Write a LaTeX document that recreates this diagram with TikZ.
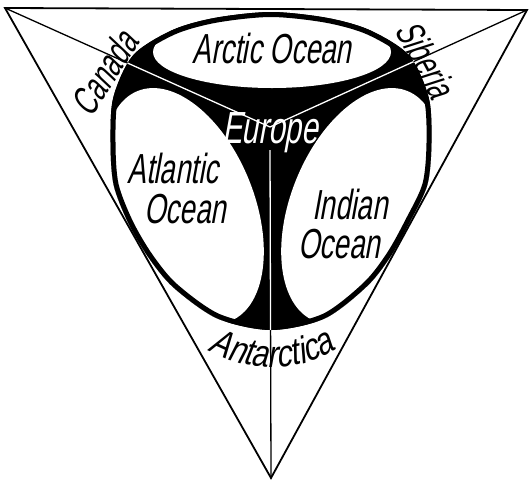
\documentclass[tikz,border=0pt]{standalone}
\usepackage{fontspec}
\setmainfont{Liberation Sans}[FakeStretch=0.66,FakeSlant=0.18]
\newfontfamily\wideface{Liberation Sans}[FakeStretch=0.8,FakeSlant=0.18]
\usetikzlibrary{decorations.text}

\begin{document}
\begin{tikzpicture}[
    x=1pt, y=-1pt,
    edge/.style={line width=1.8pt, line join=miter},
    spoke/.style={line width=1.3pt},
    sea/.style={font=\fontsize{42}{42}\selectfont, inner sep=0pt, anchor=base},
    land/.style={font=\fontsize{39}{39}\selectfont, inner sep=0pt}
]
\useasboundingbox (0,0) rectangle (529,480);

% corners and meeting point of the three lines
\coordinate (tl) at (5,8);
\coordinate (tr) at (527,10);
\coordinate (bt) at (271,478);
\coordinate (hub) at (270,127);
\coordinate (stem) at (270,150);

% outline of the land mass
\def\landline{plot[smooth cycle] coordinates {
    (271,12) (326.7,17.8) (369.7,30.1) (408.9,55.3) (428.7,97.5)
    (431.5,142.7) (427.4,184.7) (410.1,221.6) (391.4,255.3) (367.4,285.9)
    (324.7,318.5) (271,330) (217.3,318.5) (173.3,287.4) (148.1,257)
    (128.2,223) (113.6,184.8) (110.5,142.7) (113.3,97.5) (133.1,55.3)
    (172.3,30.1) (215.3,17.8)}}

% lines to the corners
\draw[spoke] (tl) -- (hub) (tr) -- (hub) (bt) -- (hub);

% land and oceans
\fill \landline;
\begin{scope}
    \clip \landline;
    \fill[white] (272,52) ellipse [x radius=119, y radius=36];
    \fill[white, rotate around={22:(184,206)}] (184,206) ellipse [x radius=70, y radius=124];
    \fill[white, rotate around={-22:(361,206)}] (361,206) ellipse [x radius=70, y radius=124];
    \draw[line width=10pt] \landline;
    \draw[spoke, white] (tl) -- (hub) (tr) -- (hub) (bt) -- (stem);
\end{scope}

% triangle
\draw[edge] (tl) -- (tr) -- (bt) -- cycle;

% labels
\node[sea] (arctic) at (272,63) {Arctic Ocean};
\node[sea] (atlantic) at (173,183) {Atlantic};
\node[sea] (atlocean) at (185,223) {Ocean};
\node[sea] (indian) at (350,219) {Indian};
\node[sea] (indocean) at (339,258) {Ocean};
\node[sea, white, font=\fontsize{45}{45}\selectfont] (europe) at (270,143) {Europe};
\node[land, rotate=57] (canada) at (104,73) {Canada};
\node[land, rotate=-62] (siberia) at (426,59) {Siberia};
\path[decorate, decoration={text along path, text align=center,
    text={|\wideface\fontsize{38}{38}\selectfont|Antarctica}}]
    (199,345) .. controls (240,372) and (300,378) .. (345,343);

\end{tikzpicture}
\end{document}
